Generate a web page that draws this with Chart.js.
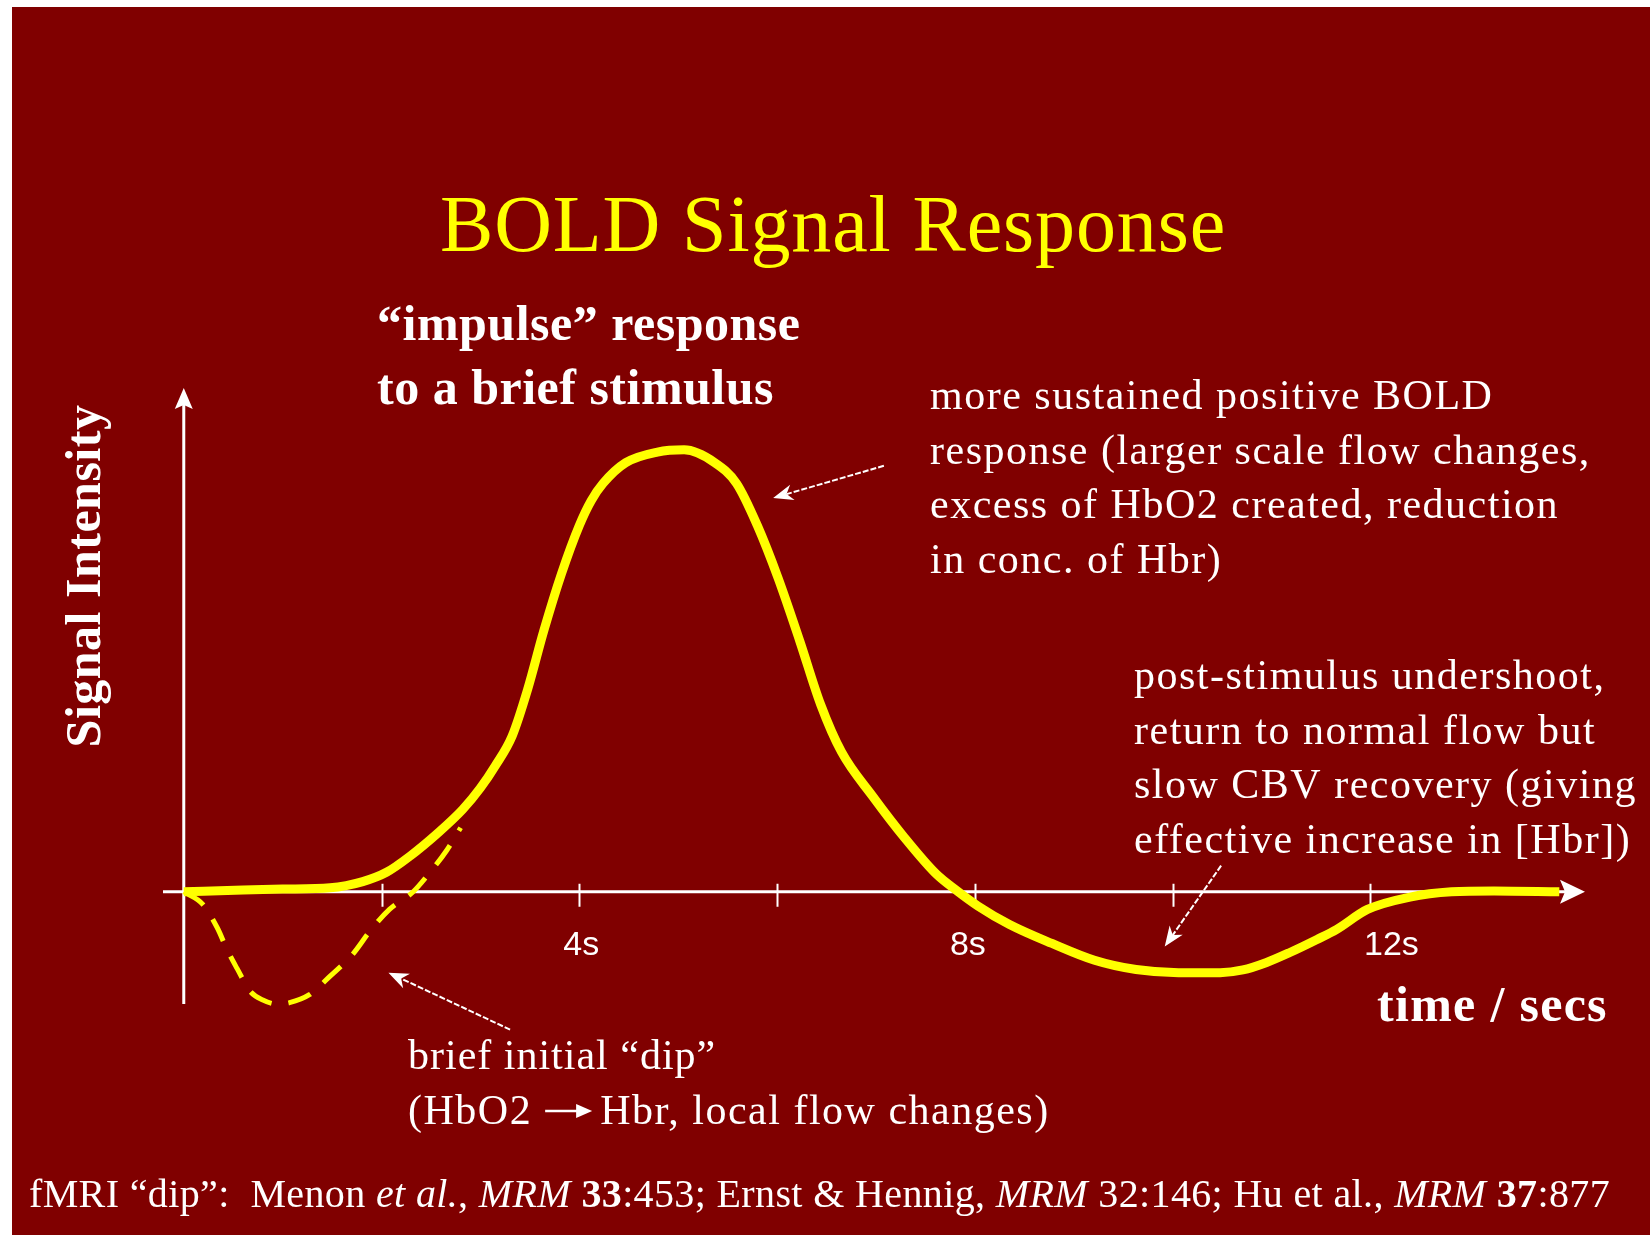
<!DOCTYPE html>
<html>
<head>
<meta charset="utf-8">
<title>BOLD Signal Response</title>
<script src="https://cdn.jsdelivr.net/npm/chart.js@4.4.0/dist/chart.umd.min.js"></script>
<style>
  html, body { margin: 0; padding: 0; background: #ffffff; overflow: hidden; }
  #wrap { position: relative; width: 1650px; height: 1235px; }
</style>
</head>
<body>
<div id="wrap"><canvas id="canvas"></canvas></div>
<script>
// BOLD impulse response, time in seconds, signal scaled so the peak is 1
const responseTimes = [0, 0.6, 1.0, 1.48, 1.81, 2.05, 2.29, 2.56, 2.82, 3.00, 3.15, 3.32, 3.48, 3.64, 3.82,
  4.00, 4.12, 4.24, 4.47, 4.79, 5.06, 5.37, 5.59, 5.80, 6.01, 6.23, 6.44, 6.65, 6.97, 7.29,
  7.61, 7.82, 8.03, 8.35, 8.78, 9.21, 9.63, 10.06, 10.48, 10.71, 10.95, 11.18, 11.46, 11.66, 11.97,
  12.40, 12.82, 13.25, 13.91];
const responseSignal = [0, 0.004, 0.006, 0.009, 0.023, 0.044, 0.081, 0.131, 0.186, 0.235, 0.285, 0.352, 0.46, 0.59, 0.72,
  0.829, 0.885, 0.924, 0.971, 0.995, 1.0, 0.971, 0.924, 0.829, 0.710, 0.567, 0.424, 0.317, 0.215, 0.122,
  0.040, 0.002, -0.032, -0.074, -0.117, -0.155, -0.176, -0.183, -0.183, -0.177, -0.16, -0.138, -0.108, -0.085, -0.040,
  -0.012, 0, 0.002, 0];

// early negative "dip" (dashed)
const dipTimes = [0, 0.19, 0.34, 0.44, 0.54, 0.67, 0.80, 0.94, 1.07, 1.27, 1.48, 1.71, 1.88, 2.08, 2.32, 2.49, 2.66, 2.80];
const dipSignal = [0, -0.028, -0.082, -0.132, -0.174, -0.225, -0.245, -0.254, -0.251, -0.233, -0.191, -0.141, -0.090,
  -0.040, 0, 0.044, 0.094, 0.145];

// time axis
const tickSeconds = [2, 4, 6, 8, 10, 12];
const labelSeconds = [4, 8, 12];
const tickLabels = ['4s', '8s', '12s'];

const SERIF = '"Liberation Serif", "Times New Roman", serif';
const RED = '#800000';
const YELLOW = '#ffff00';
const WHITE = '#ffffff';

// sideways shift of each time label, pixels
const tickLabelNudge = [2, -7, 21];

function serif(size, weight, style) {
  return (style || 'normal') + ' ' + (weight || 'normal') + ' ' + size + 'px ' + SERIF;
}

// annotation text, positions in page pixels
const textBlocks = [
  { lines: ['“impulse” response', 'to a brief stimulus'], x: 377, y: 340, lead: 64, font: serif(50, 'bold'), spacing: 0.5 },
  { lines: ['more sustained positive BOLD', 'response (larger scale flow changes,', 'excess of HbO2 created, reduction', 'in conc. of Hbr)'],
    x: 930, y: 409, lead: 54.5, font: serif(42), spacing: 1.5 },
  { lines: ['post-stimulus undershoot,', 'return to normal flow but', 'slow CBV recovery (giving', 'effective increase in [Hbr])'],
    x: 1134, y: 689, lead: 54.7, font: serif(42), spacing: 1.5 },
  { lines: ['brief initial “dip”'], x: 408, y: 1069, lead: 0, font: serif(42), spacing: 1.0 },
  { lines: ['time / secs'], x: 1377, y: 1021, lead: 0, font: serif(50, 'bold'), spacing: 1.3 }
];

// callout arrows in chart units: tail time, tail signal, tip time, tip signal
const callouts = [
  [7.08, 0.964, 5.96, 0.891],
  [3.30, -0.312, 2.07, -0.183],
  [10.49, 0.059, 9.92, -0.124]
];

const footerRuns = [
  { text: 'fMRI “dip”:  Menon ', font: serif(40) },
  { text: 'et al.', font: serif(40, 'normal', 'italic') },
  { text: ', ', font: serif(40) },
  { text: 'MRM ', font: serif(40, 'normal', 'italic') },
  { text: '33', font: serif(40, 'bold') },
  { text: ':453; Ernst & Hennig, ', font: serif(40) },
  { text: 'MRM', font: serif(40, 'normal', 'italic') },
  { text: ' 32:146; Hu et al., ', font: serif(40) },
  { text: 'MRM ', font: serif(40, 'normal', 'italic') },
  { text: '37', font: serif(40, 'bold') },
  { text: ':877', font: serif(40) }
];

const dipNoteRuns = [
  { text: '(HbO2 ', font: serif(42) },
  { arrow: 56 },
  { text: 'Hbr, local flow changes)', font: serif(42) }
];

function drawRuns(ctx, runs, x, y, spacing) {
  ctx.letterSpacing = spacing + 'px';
  let cx = x;
  runs.forEach(run => {
    if (run.arrow) {
      // little inline arrow between the two species
      const ay = y - 13;
      ctx.save();
      ctx.letterSpacing = '0px';
      ctx.strokeStyle = ctx.fillStyle;
      ctx.lineWidth = 2.5;
      ctx.beginPath();
      ctx.moveTo(cx + 1, ay);
      ctx.lineTo(cx + run.arrow - 18, ay);
      ctx.stroke();
      ctx.beginPath();
      ctx.moveTo(cx + run.arrow - 8, ay);
      ctx.lineTo(cx + run.arrow - 24, ay - 7);
      ctx.lineTo(cx + run.arrow - 24, ay + 7);
      ctx.closePath();
      ctx.fill();
      ctx.restore();
      ctx.letterSpacing = spacing + 'px';
      cx += run.arrow;
      return;
    }
    ctx.font = run.font;
    ctx.fillText(run.text, cx, y);
    cx += ctx.measureText(run.text).width;
  });
  ctx.letterSpacing = '0px';
  return cx - x;
}

// letter spacing that makes a run list span the given width
function fitSpacing(ctx, runs, width) {
  ctx.letterSpacing = '0px';
  let natural = 0;
  let chars = 0;
  runs.forEach(run => {
    if (run.arrow) { natural += run.arrow; return; }
    ctx.font = run.font;
    natural += ctx.measureText(run.text).width;
    chars += run.text.length;
  });
  return (width - natural) / chars;
}

function drawArrow(ctx, x1, y1, x2, y2) {
  const ang = Math.atan2(y2 - y1, x2 - x1);
  const c = Math.cos(ang), s = Math.sin(ang);
  const head = 20, half = 8;
  ctx.lineWidth = 2;
  ctx.setLineDash([6, 2]);
  ctx.beginPath();
  ctx.moveTo(x1, y1);
  ctx.lineTo(x2 - c * head * 0.7, y2 - s * head * 0.7);
  ctx.stroke();
  ctx.setLineDash([]);
  ctx.beginPath();
  ctx.moveTo(x2, y2);
  ctx.lineTo(x2 - c * head - s * half, y2 - s * head + c * half);
  ctx.lineTo(x2 - c * head * 0.7, y2 - s * head * 0.7);
  ctx.lineTo(x2 - c * head + s * half, y2 - s * head - c * half);
  ctx.closePath();
  ctx.fill();
}

const slidePlugin = {
  id: 'slide',
  beforeDraw(chart) {
    const ctx = chart.ctx;
    ctx.save();
    ctx.fillStyle = WHITE;
    ctx.fillRect(0, 0, chart.width, chart.height);
    ctx.fillStyle = RED;
    ctx.fillRect(12, 7, chart.width - 12, chart.height - 7);

    ctx.textAlign = 'left';
    ctx.textBaseline = 'alphabetic';

    // title
    const titleRuns = [{ text: 'BOLD Signal Response', font: serif(80) }];
    ctx.fillStyle = YELLOW;
    drawRuns(ctx, titleRuns, 440, 251, fitSpacing(ctx, titleRuns, 786));

    ctx.fillStyle = WHITE;
    textBlocks.forEach(b => {
      b.lines.forEach((line, i) => {
        drawRuns(ctx, [{ text: line, font: b.font }], b.x, b.y + i * b.lead, b.spacing);
      });
    });
    drawRuns(ctx, dipNoteRuns, 408, 1124, 1.5);
    drawRuns(ctx, footerRuns, 29, 1207, fitSpacing(ctx, footerRuns, 1581));

    // y axis title
    ctx.save();
    ctx.translate(100, 576);
    ctx.rotate(-Math.PI / 2);
    ctx.font = serif(50, 'bold');
    ctx.letterSpacing = '0.5px';
    ctx.textAlign = 'center';
    ctx.fillText('Signal Intensity', 0, 0);
    ctx.restore();
    ctx.restore();
  },
  beforeDatasetsDraw(chart) {
    const ctx = chart.ctx;
    const area = chart.chartArea;
    const xs = chart.scales.x;
    const ys = chart.scales.y;
    const y0 = ys.getPixelForValue(0);
    const x0 = xs.getPixelForValue(0);
    ctx.save();
    ctx.strokeStyle = WHITE;
    ctx.fillStyle = WHITE;

    // time axis with arrow
    ctx.lineWidth = 3;
    ctx.beginPath();
    ctx.moveTo(area.left, y0);
    ctx.lineTo(area.right - 20, y0);
    ctx.stroke();
    ctx.beginPath();
    ctx.moveTo(area.right, y0);
    ctx.lineTo(area.right - 25, y0 - 12);
    ctx.lineTo(area.right - 20, y0);
    ctx.lineTo(area.right - 25, y0 + 12);
    ctx.closePath();
    ctx.fill();

    // signal axis with arrow
    ctx.beginPath();
    ctx.moveTo(x0, area.bottom);
    ctx.lineTo(x0, area.top + 16);
    ctx.stroke();
    ctx.beginPath();
    ctx.moveTo(x0, area.top);
    ctx.lineTo(x0 - 9, area.top + 21);
    ctx.lineTo(x0, area.top + 17);
    ctx.lineTo(x0 + 9, area.top + 21);
    ctx.closePath();
    ctx.fill();

    // tick marks
    ctx.lineWidth = 2;
    tickSeconds.forEach(sec => {
      const px = Math.round(xs.getPixelForValue(sec)) + 0.5;
      ctx.beginPath();
      ctx.moveTo(px, y0 - 8);
      ctx.lineTo(px, y0 + 15);
      ctx.stroke();
    });

    ctx.font = '34px "Liberation Sans", Arial, sans-serif';
    ctx.textAlign = 'center';
    ctx.textBaseline = 'alphabetic';
    labelSeconds.forEach((sec, i) => {
      ctx.fillText(tickLabels[i], xs.getPixelForValue(sec) + tickLabelNudge[i], y0 + 63);
    });
    ctx.restore();
  },
  afterDatasetsDraw(chart) {
    const ctx = chart.ctx;
    const xs = chart.scales.x;
    const ys = chart.scales.y;
    ctx.save();
    ctx.strokeStyle = WHITE;
    ctx.fillStyle = WHITE;
    callouts.forEach(a => {
      drawArrow(ctx, xs.getPixelForValue(a[0]), ys.getPixelForValue(a[1]),
        xs.getPixelForValue(a[2]), ys.getPixelForValue(a[3]));
    });
    ctx.restore();
  }
};

const responsePoints = responseTimes.map((t, i) => ({ x: t, y: responseSignal[i] }));
const dipPoints = dipTimes.map((t, i) => ({ x: t, y: dipSignal[i] }));

const ctx = document.getElementById('canvas').getContext('2d');

new Chart(ctx, {
  type: 'line',
  data: {
    datasets: [
      {
        label: 'BOLD response',
        data: responsePoints,
        borderColor: YELLOW,
        borderWidth: 9,
        pointRadius: 0,
        cubicInterpolationMode: 'monotone',
        borderJoinStyle: 'round',
        clip: false,
        fill: false
      },
      {
        label: 'initial dip',
        data: dipPoints,
        borderColor: YELLOW,
        borderWidth: 5,
        borderDash: [24, 17],
        pointRadius: 0,
        cubicInterpolationMode: 'monotone',
        clip: false,
        fill: false
      }
    ]
  },
  options: {
    responsive: true,
    maintainAspectRatio: false,
    animation: false,
    events: [],
    layout: { padding: { left: 163, right: 65, top: 388, bottom: 231 } },
    scales: {
      x: { type: 'linear', min: -0.21, max: 14.17, display: false },
      y: { type: 'linear', min: -0.254, max: 1.14, display: false }
    },
    plugins: {
      legend: { display: false },
      tooltip: { enabled: false }
    }
  },
  plugins: [slidePlugin]
});
</script>
</body>
</html>
